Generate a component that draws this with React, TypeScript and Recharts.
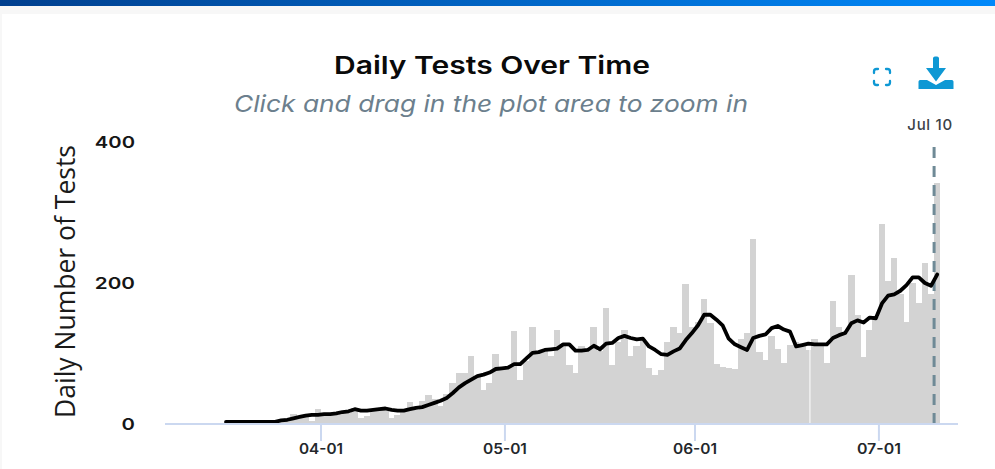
import React from 'react';
import { ComposedChart, Bar, Line, XAxis, YAxis, ReferenceLine } from 'recharts';

// Day index 0 = March 1; the first entry of each series is day 15 (March 16).
const firstDay = 15;
const dailyTests = [
  0, 0, 0, 0, 0, 0, 1,
  1, 3, 5, 8, 14, 10, 11, 4, 21,
  14, 13, 13,
  16, 15, 22, 9, 11, 20, 20, 22, 9, 13, 17,
  31, 20, 33, 41, 36, 26,
  43, 58, 73, 73, 96, 67, 48, 58, 100, 79,
  81, 132, 63, 90, 137, 102, 105, 96, 133, 112,
  84, 73, 110, 107, 137, 103, 165, 84, 117, 133,
  96, 111, 121, 79, 70, 76, 116, 137, 129, 198,
  138, 144, 177, 143, 85, 81, 80, 78, 121, 129,
  262, 102, 91, 125, 107, 86, 112, 117, 110, 105,
  121, 112, 86, 175, 138, 129, 212, 154, 95, 133,
  152, 283, 203, 235, 185, 144, 200, 171, 228, 185, 342,
];
const rollingAverage = [
  3, 3, 3, 3, 3, 3, 3, 3, 3,
  5, 6, 8, 10, 12, 13, 13, 14, 14, 15,
  17, 18, 21, 19, 19, 20, 21, 22, 20, 19, 19,
  21, 23, 24, 27, 30, 33,
  37, 44, 52, 58, 63, 68, 70, 73, 78, 79,
  80, 85, 85, 93, 101, 102, 105, 106, 107, 113,
  113, 104, 104, 105, 111, 106, 114, 115, 122, 125,
  122, 120, 121, 110, 105, 99, 98, 103, 107, 119,
  129, 140, 155, 155, 148, 140, 121, 113, 109, 105,
  122, 125, 127, 136, 139, 134, 131, 110, 112, 114,
  113, 113, 113, 122, 126, 129, 143, 147, 144, 151,
  150, 171, 182, 184, 189, 197, 208, 208, 200, 196, 212,
];
const xTickDays = [31, 61, 92, 122];
const xTickLabels = ['04-01', '05-01', '06-01', '07-01'];
const yTicks = [0, 200, 400];
const markerDay = 131;
const markerLabel = 'Jul 10';
const gapDay = 110.75;

const table = dailyTests.map((tests, i) => ({
  x: firstDay + i + 0.5,
  tests,
  avg: rollingAverage[i],
}));

const FONT = 'Inter, "DejaVu Sans", sans-serif';
const AXIS = '#cbd8f0';
const BAR_WIDTH = 6.6;

const XTick = (props: any) => {
  const { x, y, payload } = props;
  const idx = xTickDays.indexOf(payload.value);
  return (
    <g>
      <line x1={x} x2={x} y1={y - 8} y2={y + 9} stroke={AXIS} strokeWidth={2} />
      <text x={x} y={y + 22} textAnchor="middle" fontFamily={FONT} fontSize={14.5} fontWeight={600} textLength={44} lengthAdjust="spacingAndGlyphs" fill="#23272b" style={{ stroke: 'none' }}>
        {xTickLabels[idx]}
      </text>
    </g>
  );
};

const YTick = (props: any) => {
  const { x, y, payload } = props;
  const label = String(payload.value);
  return (
    <text x={x} y={y + 6} textAnchor="end" fontFamily={FONT} fontSize={16.5} fontWeight={600} textLength={label.length * 13.4} lengthAdjust="spacingAndGlyphs" fill="#161616">
      {label}
    </text>
  );
};

const FlushBar = (props: any) => {
  const { x, y, width, height, fill } = props;
  if (!height) return null;
  return <rect x={x + width / 2 - BAR_WIDTH / 2} y={y} width={BAR_WIDTH} height={height} fill={fill} shapeRendering="crispEdges" />;
};

export default function App() {
  return (
    <div style={{ position: 'absolute', left: 0, top: 0, width: 995, height: 469, background: '#f7f7f7', overflow: 'hidden' }}>
      <div style={{ position: 'absolute', left: 0, top: 0, width: 995, height: 6, background: 'linear-gradient(90deg,#003f8e,#0089fa)' }} />
      <div style={{ position: 'absolute', left: 2, top: 14, width: 993, height: 455, background: '#ffffff' }} />
      <div style={{ position: 'absolute', left: 0, top: 0 }}>
        <ComposedChart
          width={995}
          height={469}
          data={table}
          margin={{ top: 142, right: 37, bottom: 0, left: 0 }}
        >
          <XAxis
            type="number"
            dataKey="x"
            domain={[5.55, 134.9]}
            allowDataOverflow
            ticks={xTickDays}
            interval={0}
            height={45}
            tick={<XTick />}
            tickLine={false}
            axisLine={{ stroke: AXIS, strokeWidth: 2 }}
          />
          <YAxis
            type="number"
            domain={[0, 400]}
            ticks={yTicks}
            width={165}
            axisLine={false}
            tickLine={false}
            tickSize={0}
            tickMargin={30}
            tick={<YTick />}
          />
          <Bar dataKey="tests" fill="#d3d3d3" barSize={6} shape={<FlushBar />} isAnimationActive={false} />
          <ReferenceLine
            segment={[{ x: gapDay, y: 0 }, { x: gapDay, y: 110 }]}
            stroke="#ffffff"
            strokeWidth={1}
          />
          <ReferenceLine
            x={markerDay}
            stroke="#6f8a96"
            strokeWidth={3}
            strokeDasharray="11 8"
            label={{ value: markerLabel, position: 'top', offset: 12, dx: -4, fontFamily: FONT, fontSize: 15, fontWeight: 500, letterSpacing: 0.7, fill: '#3a4247' }}
          />
          <Line
            dataKey="avg"
            type="linear"
            stroke="#000000"
            strokeWidth={3.8}
            strokeLinecap="round"
            strokeLinejoin="round"
            dot={false}
            activeDot={false}
            isAnimationActive={false}
          />
        </ComposedChart>
      </div>
      <svg width={995} height={469} style={{ position: 'absolute', left: 0, top: 0, pointerEvents: 'none' }}>
        <text x={492} y={74} textAnchor="middle" fontFamily={FONT} fontSize={24.5} fontWeight={600} textLength={316} lengthAdjust="spacingAndGlyphs" fill="#0a0a0a">Daily Tests Over Time</text>
        <text x={491} y={112} textAnchor="middle" fontFamily={FONT} fontSize={23} fontStyle="italic" textLength={514} lengthAdjust="spacingAndGlyphs" fill="#6c7f8d">Click and drag in the plot area to zoom in</text>
        <text transform="translate(75 281.5) rotate(-90)" textAnchor="middle" fontFamily='"Open Sans", sans-serif' fontSize={26.5} fill="#1a1a1a">Daily Number of Tests</text>
        <g fill="none" stroke="#0e98d4" strokeWidth={2.3} strokeLinecap="round">
          <path d="M874 73 v-1.5 a2.5 2.5 0 0 1 2.5 -2.5 h1.5" />
          <path d="M886 69 h1.5 a2.5 2.5 0 0 1 2.5 2.5 v1.5" />
          <path d="M890 81 v1.5 a2.5 2.5 0 0 1 -2.5 2.5 h-1.5" />
          <path d="M878 85 h-1.5 a2.5 2.5 0 0 1 -2.5 -2.5 v-1.5" />
        </g>
        <g fill="#0e98d4">
          <path d="M933 58 a2 2 0 0 1 2 -1.5 h2 a2 2 0 0 1 2 1.5 v10 h7 l-10 13.5 l-10 -13.5 h7 z" />
          <path d="M918.5 81.5 a2 2 0 0 1 1.5 -1.5 h7 l9 5 l9 -5 h7 a2 2 0 0 1 1.5 1.5 v7.5 h-35 z" />
        </g>
      </svg>
    </div>
  );
}
